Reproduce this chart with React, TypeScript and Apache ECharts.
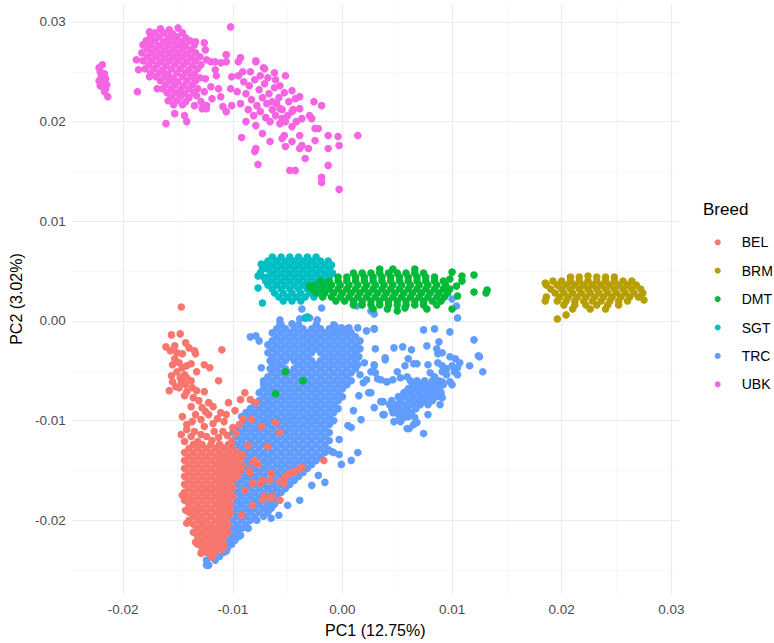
import React, { useEffect, useRef } from "react";
import * as echarts from "echarts";

const breeds = ["BEL", "BRM", "DMT", "SGT", "TRC", "UBK"];
const breedColors = ["#F8766D", "#B79F00", "#00BA38", "#00BFC4", "#619CFF", "#F564E3"];
const xAxisTitle = "PC1 (12.75%)";
const yAxisTitle = "PC2 (3.02%)";
const legendTitle = "Breed";
const xRange = [-0.0247, 0.0307];
const yRange = [-0.0274, 0.0318];

const ubk: number[][] = [
  [-.0222,.0254],[-.0219,.0257],[-.0221,.0250],[-.0217,.0248],[-.0220,.0245],[-.0216,.0243],[-.0222,.0241],[-.0218,.0239],[-.0215,.0237],[-.0219,.0235],[-.0216,.0233],[-.0221,.0236],[-.0217,.0230],[-.0214,.0225],
  [-.0166,.0293],[-.0158,.0292],[-.0150,.0294],
  [-.0171,.0289],[-.0163,.0289],[-.0155,.0288],[-.0146,.0289],
  [-.0175,.0285],[-.0167,.0285],[-.0159,.0284],[-.0151,.0285],[-.0143,.0284],
  [-.0179,.0281],[-.0171,.0281],[-.0163,.0280],[-.0155,.0281],[-.0147,.0280],[-.0139,.0281],
  [-.0182,.0277],[-.0175,.0277],[-.0167,.0276],[-.0159,.0277],[-.0151,.0277],[-.0143,.0276],[-.0135,.0277],
  [-.0178,.0273],[-.0170,.0273],[-.0162,.0272],[-.0154,.0273],[-.0146,.0273],[-.0138,.0272],
  [-.0183,.0269],[-.0174,.0269],[-.0166,.0268],[-.0158,.0269],[-.0150,.0269],[-.0142,.0268],[-.0134,.0269],
  [-.0178,.0265],[-.0170,.0265],[-.0162,.0264],[-.0154,.0265],[-.0146,.0265],[-.0138,.0264],[-.0130,.0265],
  [-.0182,.0261],[-.0174,.0261],[-.0166,.0260],[-.0158,.0261],[-.0150,.0261],[-.0142,.0260],[-.0134,.0261],
  [-.0177,.0257],[-.0169,.0257],[-.0161,.0256],[-.0153,.0257],[-.0145,.0257],[-.0137,.0256],[-.0129,.0257],
  [-.0180,.0253],[-.0172,.0253],[-.0164,.0252],[-.0156,.0253],[-.0148,.0253],[-.0140,.0252],[-.0132,.0253],
  [-.0175,.0249],[-.0167,.0249],[-.0159,.0248],[-.0151,.0249],[-.0143,.0249],[-.0135,.0248],
  [-.0170,.0245],[-.0162,.0245],[-.0154,.0244],[-.0146,.0245],[-.0138,.0245],[-.0130,.0244],
  [-.0166,.0241],[-.0158,.0241],[-.0150,.0240],[-.0142,.0241],[-.0134,.0241],
  [-.0161,.0237],[-.0153,.0237],[-.0145,.0236],[-.0137,.0237],
  [-.0164,.0233],[-.0156,.0233],[-.0148,.0232],[-.0140,.0233],[-.0132,.0233],
  [-.0160,.0229],[-.0152,.0229],[-.0144,.0228],[-.0136,.0229],
  [-.0156,.0225],[-.0148,.0225],[-.0140,.0224],
  [-.0159,.0221],[-.0151,.0221],[-.0143,.0220],
  [-.0154,.0217],[-.0146,.0217],
  [-.0176,.0290],[-.0188,.0262],[-.0186,.0252],[-.0187,.0230],[-.0169,.0233],[-.0176,.0245],[-.0161,.0198],[-.0153,.0208],[-.0144,.0206],[-.0142,.0200],[-.0135,.0216],[-.0128,.0213],[-.0124,.0216],
  [-.0134,.0280],[-.0126,.0279],[-.0125,.0272],[-.0124,.0262],[-.0120,.0260],[-.0116,.0260],[-.0111,.0259],[-.0106,.0260],[-.0116,.0252],[-.0115,.0246],[-.0113,.0233],[-.0120,.0235],[-.0125,.0243],[-.0126,.0230],[-.0119,.0223],[-.0111,.0225],[-.0109,.0215],[-.0106,.0210],[-.0101,.0216],[-.0102,.0233],[-.0101,.0245],[-.0095,.0246],[-.0106,.0267],[-.0093,.0264],[-.0095,.0260],[-.0133,.0226],[-.0129,.0220],[-.0124,.0213],
  [-.0090,.0240],[-.0085,.0236],[-.0080,.0242],[-.0076,.0232],[-.0071,.0238],[-.0067,.0228],[-.0062,.0234],[-.0058,.0224],[-.0053,.0229],[-.0049,.0220],[-.0088,.0228],[-.0083,.0222],[-.0078,.0216],[-.0073,.0224],[-.0069,.0218],[-.0064,.0212],[-.0060,.0218],[-.0055,.0212],[-.0050,.0206],[-.0086,.0212],[-.0081,.0206],[-.0075,.0210],[-.0070,.0204],[-.0066,.0200],[-.0061,.0206],[-.0057,.0198],[-.0045,.0212],[-.0042,.0200],[-.0093,.0218],[-.0096,.0230],[-.0091,.0250],[-.0084,.0250],[-.0075,.0246],[-.0068,.0244],[-.0061,.0242],[-.0072,.0254],[-.0079,.0260],
  [.0014,.0186],[-.0003,.0132],[-.0019,.0144],[-.0019,.0139],[-.0013,.0156],[-.0043,.0151],[-.0048,.0151],[-.0077,.0157],[-.0080,.0170],[-.0079,.0173],[-.0092,.0184],[-.0102,.0295],
  [-.0004,.0185],[-.0003,.0176],[-.0013,.0173],[-.0013,.0186],[-.0025,.0193],[-.0022,.0193],[-.0034,.0163],[-.0031,.0173],[-.0019,.0216],[-.0026,.0220],[-.0039,.0225],[-.0046,.0231],[-.0052,.0246],[-.0062,.0249],[-.0071,.0253],[-.0079,.0261],[-.0093,.0264],[-.0106,.0267],[-.0055,.0203],[-.0052,.0200],[-.0046,.0195],[-.0039,.0186],[-.0055,.0183],[-.0052,.0175],[-.0066,.0180],[-.0073,.0188],[-.0088,.0200],[-.0079,.0196],
  [-.0057,.0236],[-.0043,.0223],[-.0039,.0213],[-.0030,.0206],[-.0028,.0203],[-.0037,.0203],[-.0046,.0210],[-.0057,.0213],[-.0064,.0220],[-.0053,.0186],[-.0046,.0180],[-.0039,.0173],[-.0025,.0181],[-.0037,.0176]
];

const sgt: number[][] = [
  [-.0064,.0064],[-.0056,.0064],[-.0048,.0064],[-.0040,.0064],[-.0032,.0064],[-.0024,.0064],
  [-.0068,.0060],[-.0060,.0060],[-.0052,.0060],[-.0044,.0060],[-.0036,.0060],[-.0028,.0060],[-.0020,.0060],[-.0013,.0060],
  [-.0071,.0056],[-.0064,.0056],[-.0056,.0056],[-.0048,.0056],[-.0040,.0056],[-.0032,.0056],[-.0024,.0056],[-.0016,.0056],[-.0010,.0056],
  [-.0073,.0052],[-.0068,.0052],[-.0060,.0052],[-.0052,.0052],[-.0044,.0052],[-.0036,.0052],[-.0028,.0052],[-.0020,.0052],[-.0012,.0052],
  [-.0075,.0048],[-.0064,.0048],[-.0056,.0048],[-.0048,.0048],[-.0040,.0048],[-.0032,.0048],[-.0024,.0048],[-.0016,.0048],[-.0009,.0048],
  [-.0072,.0044],[-.0068,.0044],[-.0060,.0044],[-.0052,.0044],[-.0044,.0044],[-.0036,.0044],[-.0028,.0044],[-.0020,.0044],[-.0012,.0044],
  [-.0070,.0040],[-.0064,.0040],[-.0056,.0040],[-.0048,.0040],[-.0040,.0040],[-.0032,.0040],[-.0024,.0040],[-.0016,.0040],
  [-.0068,.0036],[-.0060,.0036],[-.0052,.0036],[-.0044,.0036],[-.0036,.0036],[-.0028,.0036],[-.0020,.0036],[-.0014,.0036],
  [-.0064,.0032],[-.0056,.0032],[-.0048,.0032],[-.0040,.0032],[-.0032,.0032],[-.0024,.0032],[-.0018,.0032],
  [-.0062,.0028],[-.0054,.0028],[-.0046,.0028],[-.0038,.0028],[-.0030,.0028],[-.0022,.0028],
  [-.0058,.0024],[-.0050,.0024],[-.0042,.0024],[-.0034,.0024],[-.0026,.0024],
  [-.0054,.0020],[-.0046,.0020],[-.0038,.0020],
  [-.0077,.0033],[-.0073,.0018],[-.0034,.0003],[-.0032,.0004],[-.0074,.0057],[-.0077,.0045]
];

const dmt: number[][] = [
  [.0034,.0052],[.0046,.0052],[.0066,.0052],
  [.0010,.0048],[.0018,.0048],[.0026,.0048],[.0034,.0048],[.0042,.0048],[.0050,.0048],[.0058,.0048],[.0066,.0048],[.0074,.0048],
  [-.0004,.0044],[.0004,.0044],[.0012,.0044],[.0020,.0044],[.0028,.0044],[.0036,.0044],[.0044,.0044],[.0052,.0044],[.0060,.0044],[.0068,.0044],[.0076,.0044],[.0084,.0044],
  [-.0020,.0040],[-.0012,.0040],[-.0004,.0040],[.0004,.0040],[.0012,.0040],[.0020,.0040],[.0028,.0040],[.0036,.0040],[.0044,.0040],[.0052,.0040],[.0060,.0040],[.0068,.0040],[.0076,.0040],[.0084,.0040],[.0092,.0040],
  [-.0026,.0036],[-.0018,.0036],[-.0010,.0036],[-.0002,.0036],[.0006,.0036],[.0014,.0036],[.0022,.0036],[.0030,.0036],[.0038,.0036],[.0046,.0036],[.0054,.0036],[.0062,.0036],[.0070,.0036],[.0078,.0036],[.0086,.0036],[.0094,.0036],
  [-.0028,.0032],[-.0020,.0032],[-.0012,.0032],[-.0004,.0032],[.0004,.0032],[.0012,.0032],[.0020,.0032],[.0028,.0032],[.0036,.0032],[.0044,.0032],[.0052,.0032],[.0060,.0032],[.0068,.0032],[.0076,.0032],[.0084,.0032],[.0092,.0032],[.0098,.0032],
  [-.0024,.0028],[-.0016,.0028],[-.0008,.0028],[.0000,.0028],[.0008,.0028],[.0016,.0028],[.0024,.0028],[.0032,.0028],[.0040,.0028],[.0048,.0028],[.0056,.0028],[.0064,.0028],[.0072,.0028],[.0080,.0028],[.0088,.0028],[.0096,.0028],
  [-.0018,.0024],[-.0010,.0024],[-.0002,.0024],[.0006,.0024],[.0014,.0024],[.0022,.0024],[.0030,.0024],[.0038,.0024],[.0046,.0024],[.0054,.0024],[.0062,.0024],[.0070,.0024],[.0078,.0024],[.0086,.0024],[.0093,.0024],
  [-.0006,.0020],[.0002,.0020],[.0010,.0020],[.0018,.0020],[.0026,.0020],[.0034,.0020],[.0042,.0020],[.0050,.0020],[.0058,.0020],[.0066,.0020],[.0074,.0020],[.0082,.0020],[.0090,.0020],
  [.0010,.0016],[.0018,.0016],[.0026,.0016],[.0034,.0016],[.0042,.0016],[.0050,.0016],[.0058,.0016],[.0066,.0016],[.0074,.0016],[.0086,.0016],
  [.0028,.0012],[.0041,.0012],[.0050,.0010],[.0057,.0013],[.0077,.0012],
  [.0100,.0049],[.0109,.0045],[.0120,.0046],[.0109,.0040],[.0105,.0025],[.0100,.0012],[.0120,.0029],[.0132,.0031],[.0131,.0028],[.0104,.0035],[.0098,.0042],[-.0030,.0035],
  [-.0052,-.0051],[-.0036,-.0060],[-.0061,-.0073]
];

const brm: number[][] = [
  [.0208,.0044],[.0216,.0044],[.0224,.0045],[.0232,.0044],[.0240,.0044],[.0248,.0044],
  [.0192,.0040],[.0200,.0040],[.0208,.0040],[.0216,.0040],[.0224,.0040],[.0232,.0040],[.0240,.0040],[.0248,.0040],[.0256,.0040],[.0264,.0040],
  [.0186,.0036],[.0196,.0036],[.0204,.0036],[.0212,.0036],[.0220,.0036],[.0228,.0036],[.0236,.0036],[.0244,.0036],[.0252,.0036],[.0260,.0036],[.0268,.0036],
  [.0190,.0032],[.0200,.0032],[.0208,.0032],[.0216,.0032],[.0224,.0032],[.0232,.0032],[.0240,.0032],[.0248,.0032],[.0256,.0032],[.0264,.0032],[.0272,.0032],
  [.0194,.0028],[.0202,.0028],[.0210,.0028],[.0218,.0028],[.0226,.0028],[.0234,.0028],[.0242,.0028],[.0250,.0028],[.0258,.0028],[.0266,.0028],[.0274,.0028],
  [.0186,.0024],[.0198,.0024],[.0206,.0024],[.0214,.0024],[.0222,.0024],[.0230,.0024],[.0238,.0024],[.0246,.0024],[.0254,.0024],[.0262,.0024],[.0270,.0024],
  [.0196,.0020],[.0204,.0020],[.0212,.0020],[.0220,.0020],[.0228,.0020],[.0236,.0020],[.0244,.0020],[.0252,.0020],[.0260,.0020],[.0275,.0021],
  [.0202,.0016],[.0212,.0016],[.0222,.0016],[.0232,.0016],[.0242,.0016],[.0252,.0016],
  [.0210,.0012],[.0226,.0012],[.0240,.0012],
  [.0196,.0002],[.0204,.0006],[.0185,.0038],[.0185,.0020]
];

const trc: number[][] = [
  [-.0057,.0001],[-.0037,.0012],[-.0019,.0013],[-.0039,.0002],[-.0030,.0003],[-.0023,.0001],[.0013,.0015],[.0026,.0010],[.0029,.0007],[-.0034,.0003],[-.0046,-.0003],[-.0057,-.0003],[-.0007,-.0005],[-.0001,-.0007],[.0006,-.0007],[.0014,-.0007],[.0022,-.0010],[.0029,-.0008],
  [-.0079,-.0015],[-.0076,-.0020],[-.0074,-.0047],[-.0072,-.0063],[-.0084,-.0016],
  [-.0056,-.0004],[-.0040,-.0004],[-.0024,-.0004],[-.0008,-.0004],
  [-.0060,-.0008],[-.0052,-.0008],[-.0044,-.0008],[-.0036,-.0008],[-.0028,-.0008],[-.0020,-.0008],[-.0012,-.0008],[-.0004,-.0008],[.0004,-.0008],
  [-.0064,-.0012],[-.0056,-.0012],[-.0048,-.0012],[-.0040,-.0012],[-.0032,-.0012],[-.0024,-.0012],[-.0016,-.0012],[-.0008,-.0012],[.0000,-.0012],[.0008,-.0012],
  [-.0060,-.0016],[-.0052,-.0016],[-.0044,-.0016],[-.0036,-.0016],[-.0028,-.0016],[-.0020,-.0016],[-.0012,-.0016],[-.0004,-.0016],[.0004,-.0016],[.0012,-.0016],
  [-.0064,-.0020],[-.0056,-.0020],[-.0048,-.0020],[-.0040,-.0020],[-.0032,-.0020],[-.0024,-.0020],[-.0016,-.0020],[-.0008,-.0020],[.0000,-.0020],[.0008,-.0020],[.0016,-.0020],
  [-.0068,-.0024],[-.0060,-.0024],[-.0052,-.0024],[-.0044,-.0024],[-.0036,-.0024],[-.0028,-.0024],[-.0020,-.0024],[-.0012,-.0024],[-.0004,-.0024],[.0004,-.0024],[.0012,-.0024],
  [-.0064,-.0028],[-.0056,-.0028],[-.0048,-.0028],[-.0040,-.0028],[-.0032,-.0028],[-.0024,-.0028],[-.0016,-.0028],[-.0008,-.0028],[.0000,-.0028],[.0008,-.0028],[.0016,-.0028],
  [-.0068,-.0032],[-.0060,-.0032],[-.0052,-.0032],[-.0044,-.0032],[-.0036,-.0032],[-.0028,-.0032],[-.0020,-.0032],[-.0012,-.0032],[-.0004,-.0032],[.0004,-.0032],[.0012,-.0032],
  [-.0064,-.0036],[-.0056,-.0036],[-.0048,-.0036],[-.0040,-.0036],[-.0032,-.0036],[-.0016,-.0036],[-.0008,-.0036],[.0000,-.0036],[.0008,-.0036],[.0015,-.0036],
  [-.0066,-.0040],[-.0060,-.0040],[-.0052,-.0040],[-.0044,-.0040],[-.0036,-.0040],[-.0028,-.0040],[-.0020,-.0040],[-.0012,-.0040],[-.0004,-.0040],[.0004,-.0040],[.0012,-.0040],
  [-.0064,-.0044],[-.0056,-.0044],[-.0040,-.0044],[-.0032,-.0044],[-.0024,-.0044],[-.0016,-.0044],[-.0008,-.0044],[.0000,-.0044],[.0008,-.0044],[.0014,-.0044],
  [-.0066,-.0048],[-.0060,-.0048],[-.0052,-.0048],[-.0044,-.0048],[-.0036,-.0048],[-.0028,-.0048],[-.0020,-.0048],[-.0012,-.0048],[-.0004,-.0048],[.0004,-.0048],[.0012,-.0048],
  [-.0064,-.0052],[-.0056,-.0052],[-.0048,-.0052],[-.0040,-.0052],[-.0032,-.0052],[-.0024,-.0052],[-.0016,-.0052],[-.0008,-.0052],[.0000,-.0052],[.0008,-.0052],
  [-.0068,-.0056],[-.0060,-.0056],[-.0052,-.0056],[-.0044,-.0056],[-.0036,-.0056],[-.0028,-.0056],[-.0020,-.0056],[-.0012,-.0056],[-.0004,-.0056],[.0004,-.0056],
  [-.0072,-.0060],[-.0064,-.0060],[-.0056,-.0060],[-.0048,-.0060],[-.0040,-.0060],[-.0032,-.0060],[-.0024,-.0060],[-.0016,-.0060],[-.0008,-.0060],[.0000,-.0060],[.0008,-.0060],
  [-.0068,-.0064],[-.0060,-.0064],[-.0052,-.0064],[-.0044,-.0064],[-.0036,-.0064],[-.0028,-.0064],[-.0020,-.0064],[-.0012,-.0064],[-.0004,-.0064],[.0004,-.0064],
  [-.0072,-.0068],[-.0064,-.0068],[-.0056,-.0068],[-.0048,-.0068],[-.0040,-.0068],[-.0032,-.0068],[-.0024,-.0068],[-.0016,-.0068],[-.0008,-.0068],[.0000,-.0068],
  [-.0076,-.0072],[-.0068,-.0072],[-.0060,-.0072],[-.0052,-.0072],[-.0044,-.0072],[-.0036,-.0072],[-.0028,-.0072],[-.0020,-.0072],[-.0012,-.0072],[-.0004,-.0072],
  [-.0072,-.0076],[-.0064,-.0076],[-.0056,-.0076],[-.0048,-.0076],[-.0040,-.0076],[-.0032,-.0076],[-.0024,-.0076],[-.0016,-.0076],[-.0008,-.0076],[.0000,-.0076],
  [-.0076,-.0080],[-.0068,-.0080],[-.0060,-.0080],[-.0052,-.0080],[-.0044,-.0080],[-.0036,-.0080],[-.0028,-.0080],[-.0020,-.0080],[-.0012,-.0080],[-.0004,-.0080],
  [-.0080,-.0084],[-.0072,-.0084],[-.0064,-.0084],[-.0056,-.0084],[-.0048,-.0084],[-.0040,-.0084],[-.0032,-.0084],[-.0024,-.0084],[-.0016,-.0084],[-.0008,-.0084],
  [-.0084,-.0088],[-.0076,-.0088],[-.0068,-.0088],[-.0060,-.0088],[-.0052,-.0088],[-.0044,-.0088],[-.0036,-.0088],[-.0028,-.0088],[-.0020,-.0088],[-.0012,-.0088],[-.0004,-.0088],
  [-.0088,-.0092],[-.0080,-.0092],[-.0072,-.0092],[-.0064,-.0092],[-.0056,-.0092],[-.0048,-.0092],[-.0040,-.0092],[-.0032,-.0092],[-.0024,-.0092],[-.0016,-.0092],[-.0008,-.0092],
  [-.0092,-.0096],[-.0084,-.0096],[-.0076,-.0096],[-.0068,-.0096],[-.0060,-.0096],[-.0052,-.0096],[-.0044,-.0096],[-.0036,-.0096],[-.0028,-.0096],[-.0020,-.0096],[-.0012,-.0096],
  [-.0088,-.0100],[-.0080,-.0100],[-.0072,-.0100],[-.0064,-.0100],[-.0056,-.0100],[-.0048,-.0100],[-.0040,-.0100],[-.0032,-.0100],[-.0024,-.0100],[-.0016,-.0100],[-.0008,-.0100],
  [-.0092,-.0104],[-.0084,-.0104],[-.0076,-.0104],[-.0068,-.0104],[-.0060,-.0104],[-.0052,-.0104],[-.0044,-.0104],[-.0036,-.0104],[-.0028,-.0104],[-.0020,-.0104],[-.0012,-.0104],
  [-.0096,-.0108],[-.0088,-.0108],[-.0080,-.0108],[-.0072,-.0108],[-.0064,-.0108],[-.0056,-.0108],[-.0048,-.0108],[-.0040,-.0108],[-.0032,-.0108],[-.0024,-.0108],[-.0016,-.0108],
  [-.0100,-.0112],[-.0092,-.0112],[-.0084,-.0112],[-.0076,-.0112],[-.0068,-.0112],[-.0060,-.0112],[-.0052,-.0112],[-.0044,-.0112],[-.0036,-.0112],[-.0028,-.0112],[-.0020,-.0112],[-.0012,-.0112],
  [-.0096,-.0116],[-.0088,-.0116],[-.0080,-.0116],[-.0072,-.0116],[-.0064,-.0116],[-.0056,-.0116],[-.0048,-.0116],[-.0040,-.0116],[-.0032,-.0116],[-.0024,-.0116],[-.0016,-.0116],
  [-.0100,-.0120],[-.0092,-.0120],[-.0084,-.0120],[-.0076,-.0120],[-.0068,-.0120],[-.0060,-.0120],[-.0052,-.0120],[-.0044,-.0120],[-.0036,-.0120],[-.0028,-.0120],[-.0020,-.0120],[-.0012,-.0120],
  [-.0104,-.0124],[-.0096,-.0124],[-.0088,-.0124],[-.0080,-.0124],[-.0072,-.0124],[-.0064,-.0124],[-.0056,-.0124],[-.0048,-.0124],[-.0040,-.0124],[-.0032,-.0124],[-.0024,-.0124],[-.0016,-.0124],
  [-.0108,-.0128],[-.0100,-.0128],[-.0092,-.0128],[-.0084,-.0128],[-.0076,-.0128],[-.0068,-.0128],[-.0060,-.0128],[-.0052,-.0128],[-.0044,-.0128],[-.0036,-.0128],[-.0028,-.0128],[-.0020,-.0128],
  [-.0104,-.0132],[-.0096,-.0132],[-.0088,-.0132],[-.0080,-.0132],[-.0072,-.0132],[-.0064,-.0132],[-.0056,-.0132],[-.0048,-.0132],[-.0040,-.0132],[-.0032,-.0132],[-.0024,-.0132],[-.0016,-.0132],
  [-.0108,-.0136],[-.0100,-.0136],[-.0092,-.0136],[-.0084,-.0136],[-.0076,-.0136],[-.0068,-.0136],[-.0060,-.0136],[-.0052,-.0136],[-.0044,-.0136],[-.0036,-.0136],[-.0028,-.0136],[-.0020,-.0136],
  [-.0112,-.0140],[-.0104,-.0140],[-.0096,-.0140],[-.0088,-.0140],[-.0080,-.0140],[-.0072,-.0140],[-.0064,-.0140],[-.0056,-.0140],[-.0048,-.0140],[-.0040,-.0140],[-.0032,-.0140],[-.0024,-.0140],
  [-.0108,-.0144],[-.0100,-.0144],[-.0092,-.0144],[-.0084,-.0144],[-.0076,-.0144],[-.0068,-.0144],[-.0060,-.0144],[-.0052,-.0144],[-.0044,-.0144],[-.0036,-.0144],[-.0028,-.0144],
  [-.0112,-.0148],[-.0104,-.0148],[-.0096,-.0148],[-.0088,-.0148],[-.0080,-.0148],[-.0072,-.0148],[-.0064,-.0148],[-.0056,-.0148],[-.0048,-.0148],[-.0040,-.0148],[-.0032,-.0148],
  [-.0108,-.0152],[-.0100,-.0152],[-.0092,-.0152],[-.0084,-.0152],[-.0076,-.0152],[-.0068,-.0152],[-.0060,-.0152],[-.0052,-.0152],[-.0044,-.0152],[-.0036,-.0152],
  [-.0112,-.0156],[-.0104,-.0156],[-.0096,-.0156],[-.0088,-.0156],[-.0080,-.0156],[-.0072,-.0156],[-.0064,-.0156],[-.0056,-.0156],[-.0048,-.0156],[-.0040,-.0156],
  [-.0108,-.0160],[-.0100,-.0160],[-.0092,-.0160],[-.0084,-.0160],[-.0076,-.0160],[-.0068,-.0160],[-.0060,-.0160],[-.0052,-.0160],[-.0044,-.0160],
  [-.0112,-.0164],[-.0104,-.0164],[-.0096,-.0164],[-.0088,-.0164],[-.0080,-.0164],[-.0072,-.0164],[-.0064,-.0164],[-.0056,-.0164],[-.0048,-.0164],
  [-.0108,-.0168],[-.0100,-.0168],[-.0092,-.0168],[-.0084,-.0168],[-.0076,-.0168],[-.0068,-.0168],[-.0060,-.0168],[-.0052,-.0168],
  [-.0112,-.0172],[-.0104,-.0172],[-.0096,-.0172],[-.0088,-.0172],[-.0080,-.0172],[-.0072,-.0172],[-.0064,-.0172],[-.0056,-.0172],
  [-.0108,-.0176],[-.0100,-.0176],[-.0092,-.0176],[-.0084,-.0176],[-.0076,-.0176],[-.0068,-.0176],[-.0060,-.0176],
  [-.0112,-.0180],[-.0104,-.0180],[-.0096,-.0180],[-.0088,-.0180],[-.0080,-.0180],[-.0072,-.0180],[-.0064,-.0180],
  [-.0108,-.0184],[-.0100,-.0184],[-.0092,-.0184],[-.0084,-.0184],[-.0076,-.0184],[-.0068,-.0184],[-.0062,-.0184],
  [-.0112,-.0188],[-.0104,-.0188],[-.0096,-.0188],[-.0088,-.0188],[-.0080,-.0188],[-.0072,-.0188],[-.0065,-.0188],
  [-.0108,-.0192],[-.0100,-.0192],[-.0092,-.0192],[-.0084,-.0192],[-.0076,-.0192],[-.0068,-.0192],
  [-.0112,-.0196],[-.0104,-.0196],[-.0096,-.0196],[-.0088,-.0196],[-.0080,-.0196],[-.0072,-.0196],
  [-.0108,-.0200],[-.0100,-.0200],[-.0092,-.0200],[-.0084,-.0200],[-.0078,-.0200],
  [-.0112,-.0204],[-.0104,-.0204],[-.0096,-.0204],[-.0088,-.0204],
  [-.0116,-.0208],[-.0108,-.0208],[-.0100,-.0208],[-.0092,-.0208],
  [-.0120,-.0212],[-.0112,-.0212],[-.0104,-.0212],[-.0096,-.0212],
  [-.0116,-.0216],[-.0108,-.0216],[-.0100,-.0216],[-.0094,-.0216],
  [-.0120,-.0220],[-.0112,-.0220],[-.0104,-.0220],[-.0098,-.0220],
  [-.0116,-.0224],[-.0108,-.0224],[-.0101,-.0224],
  [-.0120,-.0228],[-.0112,-.0228],[-.0105,-.0228],
  [-.0116,-.0232],[-.0108,-.0232],
  [-.0120,-.0236],[-.0112,-.0236],
  [-.0124,-.0240],[-.0116,-.0240],
  [-.0122,-.0245],
  [-.0134,-.0190],[-.0128,-.0221],[-.0124,-.0245],[-.0131,-.0200],[-.0106,-.0231],[-.0100,-.0220],[-.0093,-.0215],[-.0086,-.0208],
  [-.0003,-.0119],[-.0010,-.0131],[-.0001,-.0144],[.0008,-.0140],[.0014,-.0132],[-.0008,-.0132],[-.0003,-.0134],[-.0013,-.0129],[-.0022,-.0155],[.0005,-.0105],[.0010,-.0090],[.0015,-.0075],[.0019,-.0062],[-.0016,-.0162],[-.0028,-.0165],[-.0039,-.0180],[-.0050,-.0185],[-.0058,-.0195],[-.0065,-.0198],[-.0088,-.0207],[.0008,-.0107],
  [.0047,-.0027],[.0055,-.0026],[.0039,-.0037],[.0060,-.0038],[.0065,-.0043],[.0077,-.0025],[.0088,-.0021],[.0084,-.0008],[.0074,-.0009],[.0057,-.0045],[.0050,-.0051],[.0029,-.0044],[.0020,-.0042],[.0026,-.0051],[.0035,-.0059],[.0022,-.0059],[.0016,-.0054],[.0024,-.0072],[.0029,-.0087],[.0037,-.0081],[.0041,-.0061],[.0046,-.0059],[.0053,-.0057],[.0059,-.0056],[.0068,-.0061],[.0017,-.0099],[.0037,-.0094],[.0046,-.0092],[.0056,-.0097],[.0059,-.0108],[.0065,-.0104],
  [.0100,.0022],[.0104,.0015],[.0105,.0003],[.0120,-.0019],[.0124,-.0035],[.0098,-.0011],[.0029,-.0008],[.0030,-.0028],[.0063,-.0029],[.0086,-.0028],[.0091,-.0032],[.0087,-.0033],[.0039,-.0039],[.0098,-.0036],[.0103,-.0038],[.0107,-.0042],[.0125,-.0036],[.0116,-.0045],[.0128,-.0051],[.0068,-.0043],[.0078,-.0044],[.0087,-.0042],[.0091,-.0045],[.0100,-.0045],[.0105,-.0047],[.0102,-.0051],[.0105,-.0054],[.0029,-.0045],[.0030,-.0052],[.0032,-.0058],[.0040,-.0061],[.0062,-.0060],[.0080,-.0052],[.0084,-.0056],[.0091,-.0051],[.0095,-.0048],[.0095,-.0054],[.0098,-.0061],[.0100,-.0064],[.0091,-.0061],[.0026,-.0072],[.0035,-.0081],[.0038,-.0094],[.0061,-.0108],[.0074,-.0113],[.0066,-.0097],[.0068,-.0102],[.0053,-.0101],[.0047,-.0101],[.0091,-.0077],[.0089,-.0084],[.0078,-.0094],
  [.0068,-.0060],[.0075,-.0060],[.0082,-.0060],[.0088,-.0060],
  [.0064,-.0064],[.0071,-.0064],[.0078,-.0064],[.0085,-.0064],[.0092,-.0064],
  [.0060,-.0068],[.0067,-.0068],[.0074,-.0068],[.0081,-.0068],[.0088,-.0068],
  [.0056,-.0072],[.0063,-.0072],[.0070,-.0072],[.0077,-.0072],[.0084,-.0072],[.0090,-.0072],
  [.0051,-.0076],[.0058,-.0076],[.0065,-.0076],[.0072,-.0076],[.0079,-.0076],[.0086,-.0076],
  [.0045,-.0080],[.0053,-.0080],[.0061,-.0080],[.0068,-.0080],[.0075,-.0080],[.0082,-.0080],
  [.0043,-.0084],[.0050,-.0084],[.0057,-.0084],[.0064,-.0084],[.0071,-.0084],[.0078,-.0084],
  [.0045,-.0088],[.0052,-.0088],[.0059,-.0088],[.0067,-.0088],
  [.0049,-.0092],[.0056,-.0092],[.0063,-.0092],
  [.0052,-.0096],[.0060,-.0096]
];

const bel: number[][] = [
  [-.0147,.0014],[-.0156,-.0014],[-.0148,-.0013],[-.0161,-.0026],[-.0153,-.0025],[-.0151,-.0032],[-.0143,-.0022],[-.0140,-.0027],[-.0135,-.0030],[-.0134,-.0033],[-.0110,-.0029],[-.0153,-.0038],[-.0149,-.0042],[-.0142,-.0045],[-.0138,-.0043],[-.0126,-.0044],[-.0121,-.0047],[-.0151,-.0051],[-.0144,-.0054],[-.0142,-.0057],[-.0147,-.0061],[-.0143,-.0064],[-.0152,-.0066],[-.0149,-.0067],[-.0142,-.0071],[-.0133,-.0051],[-.0113,-.0060],[-.0133,-.0070],[-.0126,-.0071],[-.0089,-.0072],[-.0093,-.0079],[-.0084,-.0079],[-.0079,-.0082],[-.0104,-.0082],[-.0122,-.0082],[-.0128,-.0087],[-.0125,-.0091],[-.0111,-.0092],[-.0122,-.0094],[-.0146,-.0096],[-.0142,-.0104],[-.0137,-.0101],[-.0129,-.0099],[-.0126,-.0106],[-.0091,-.0098],[-.0083,-.0099],[-.0100,-.0107],[-.0142,-.0109],[-.0135,-.0111],[-.0129,-.0114],[-.0124,-.0116],[-.0117,-.0111],[-.0113,-.0117],[-.0109,-.0111],
  [-.0157,-.0030],[-.0146,-.0033],[-.0155,-.0044],[-.0146,-.0047],[-.0156,-.0055],[-.0148,-.0057],[-.0138,-.0060],[-.0155,-.0061],[-.0137,-.0067],[-.0144,-.0075],[-.0136,-.0077],[-.0158,-.0070],
  [-.0138,-.0086],[-.0131,-.0080],[-.0118,-.0086],[-.0114,-.0098],[-.0106,-.0094],[-.0098,-.0090],[-.0134,-.0094],[-.0118,-.0103],[-.0108,-.0101],[-.0094,-.0104],[-.0138,-.0116],[-.0119,-.0120],[-.0105,-.0115],[-.0097,-.0113],[-.0147,-.0114],[-.0144,-.0121],[-.0132,-.0121],[-.0112,-.0124],[-.0101,-.0121],
  [-.0136,-.0124],[-.0128,-.0124],[-.0120,-.0124],[-.0112,-.0124],[-.0104,-.0124],
  [-.0140,-.0128],[-.0132,-.0128],[-.0124,-.0128],[-.0116,-.0128],[-.0108,-.0128],[-.0100,-.0128],
  [-.0144,-.0132],[-.0136,-.0132],[-.0128,-.0132],[-.0120,-.0132],[-.0112,-.0132],[-.0104,-.0132],[-.0096,-.0132],
  [-.0140,-.0136],[-.0132,-.0136],[-.0124,-.0136],[-.0116,-.0136],[-.0108,-.0136],[-.0100,-.0136],[-.0092,-.0136],
  [-.0144,-.0140],[-.0136,-.0140],[-.0128,-.0140],[-.0120,-.0140],[-.0112,-.0140],[-.0104,-.0140],[-.0096,-.0140],
  [-.0140,-.0144],[-.0132,-.0144],[-.0124,-.0144],[-.0116,-.0144],[-.0108,-.0144],[-.0100,-.0144],[-.0092,-.0144],
  [-.0144,-.0148],[-.0136,-.0148],[-.0128,-.0148],[-.0120,-.0148],[-.0112,-.0148],[-.0104,-.0148],[-.0096,-.0148],
  [-.0140,-.0152],[-.0132,-.0152],[-.0124,-.0152],[-.0116,-.0152],[-.0108,-.0152],[-.0100,-.0152],
  [-.0144,-.0156],[-.0136,-.0156],[-.0128,-.0156],[-.0120,-.0156],[-.0112,-.0156],[-.0104,-.0156],[-.0096,-.0156],
  [-.0140,-.0160],[-.0132,-.0160],[-.0124,-.0160],[-.0116,-.0160],[-.0108,-.0160],[-.0100,-.0160],
  [-.0144,-.0164],[-.0136,-.0164],[-.0128,-.0164],[-.0120,-.0164],[-.0112,-.0164],[-.0104,-.0164],
  [-.0140,-.0168],[-.0132,-.0168],[-.0124,-.0168],[-.0116,-.0168],[-.0108,-.0168],[-.0100,-.0168],
  [-.0144,-.0172],[-.0136,-.0172],[-.0128,-.0172],[-.0120,-.0172],[-.0112,-.0172],[-.0104,-.0172],
  [-.0140,-.0176],[-.0132,-.0176],[-.0124,-.0176],[-.0116,-.0176],[-.0108,-.0176],[-.0100,-.0176],
  [-.0144,-.0180],[-.0136,-.0180],[-.0128,-.0180],[-.0120,-.0180],[-.0112,-.0180],[-.0104,-.0180],
  [-.0140,-.0184],[-.0132,-.0184],[-.0124,-.0184],[-.0116,-.0184],[-.0108,-.0184],[-.0102,-.0184],
  [-.0136,-.0188],[-.0128,-.0188],[-.0120,-.0188],[-.0112,-.0188],[-.0104,-.0188],
  [-.0140,-.0192],[-.0132,-.0192],[-.0124,-.0192],[-.0116,-.0192],[-.0108,-.0192],[-.0102,-.0192],
  [-.0136,-.0196],[-.0128,-.0196],[-.0120,-.0196],[-.0112,-.0196],[-.0104,-.0196],
  [-.0140,-.0200],[-.0132,-.0200],[-.0124,-.0200],[-.0116,-.0200],[-.0108,-.0200],
  [-.0136,-.0204],[-.0128,-.0204],[-.0120,-.0204],[-.0112,-.0204],[-.0104,-.0204],
  [-.0132,-.0208],[-.0124,-.0208],[-.0116,-.0208],[-.0108,-.0208],
  [-.0136,-.0212],[-.0128,-.0212],[-.0120,-.0212],[-.0112,-.0212],[-.0104,-.0212],
  [-.0132,-.0216],[-.0124,-.0216],[-.0116,-.0216],[-.0108,-.0216],
  [-.0128,-.0220],[-.0120,-.0220],[-.0112,-.0220],
  [-.0132,-.0224],[-.0124,-.0224],[-.0116,-.0224],[-.0108,-.0224],
  [-.0128,-.0228],[-.0120,-.0228],[-.0112,-.0228],
  [-.0124,-.0232],[-.0116,-.0232],
  [-.0120,-.0236],
  [-.0129,-.0233],[-.0119,-.0237],[-.0109,-.0229],[-.0134,-.0222],[-.0143,-.0190],[-.0146,-.0175],[-.0142,-.0203],
  [-.0074,-.0106],[-.0061,-.0102],[-.0057,-.0112],[-.0068,-.0126],[-.0048,-.0153],[-.0039,-.0149],[-.0037,-.0147],[-.0017,-.0140],[-.0057,-.0161],[-.0064,-.0176],[-.0057,-.0180],[-.0091,-.0134],[-.0084,-.0153],[-.0075,-.0163],[-.0071,-.0176],[-.0093,-.0150],[-.0086,-.0125],[-.0080,-.0140],[-.0089,-.0170],[-.0082,-.0185],[-.0092,-.0195],[-.0066,-.0160],[-.0082,-.0142],[-.0077,-.0144],[-.0086,-.0150],[-.0082,-.0163],[-.0073,-.0160],[-.0065,-.0153],[-.0065,-.0178],[-.0073,-.0180],[-.0053,-.0163],[-.0044,-.0151],[-.0052,-.0156]
];

const pointsByBreed: Record<string, number[][]> = { BEL: bel, BRM: brm, DMT: dmt, SGT: sgt, TRC: trc, UBK: ubk };
const drawOrder = ["TRC", "BEL", "SGT", "DMT", "BRM", "UBK"];
const fontFamily = "'Liberation Sans', Arial, Helvetica, sans-serif";

export default function App() {
  const ref = useRef<HTMLDivElement>(null);
  useEffect(() => {
    if (!ref.current) return;
    const chart = echarts.init(ref.current, null, { renderer: "svg" });
    const colorOf = (b: string) => breedColors[breeds.indexOf(b)];
    chart.setOption({
      animation: false,
      backgroundColor: "#FFFFFF",
      title: {
        text: legendTitle,
        left: 703,
        top: 201,
        padding: 0,
        textStyle: { fontSize: 17, fontWeight: "normal", color: "#000000", fontFamily }
      },
      legend: {
        data: breeds.map((b) => ({ name: b, itemStyle: { color: colorOf(b) } })),
        orient: "vertical",
        left: 714.7,
        top: 235.3,
        padding: 0,
        itemWidth: 6,
        itemHeight: 6,
        itemGap: 14.4,
        icon: "circle",
        selectedMode: false,
        textStyle: { fontSize: 14, color: "#000000", fontFamily, lineHeight: 14, padding: [0, 0, 0, 16] }
      },
      grid: { left: 64, right: 95, top: 4, bottom: 45, containLabel: false },
      xAxis: {
        type: "value",
        min: xRange[0],
        max: xRange[1],
        name: xAxisTitle,
        nameLocation: "middle",
        nameGap: 28,
        nameTextStyle: { color: "#000000", fontSize: 16, fontFamily },
        axisLine: { show: false },
        axisTick: { show: false },
        axisLabel: {
          color: "#4D4D4D",
          fontSize: 13.5,
          fontFamily,
          margin: 8,
          showMinLabel: false,
          showMaxLabel: false,
          formatter: (v: number) => v.toFixed(2)
        },
        splitLine: { show: true, showMinLine: false, showMaxLine: false, lineStyle: { color: "#EBEBEB", width: 1.1 } },
        minorTick: { show: false, splitNumber: 2 },
        minorSplitLine: { show: true, lineStyle: { color: "#F3F3F3", width: 0.6 } }
      },
      yAxis: {
        type: "value",
        min: yRange[0],
        max: yRange[1],
        name: yAxisTitle,
        nameLocation: "middle",
        nameRotate: 90,
        nameGap: 45,
        nameTextStyle: { color: "#000000", fontSize: 16, fontFamily },
        axisLine: { show: false },
        axisTick: { show: false },
        axisLabel: {
          color: "#4D4D4D",
          fontSize: 13.5,
          fontFamily,
          margin: 6,
          showMinLabel: false,
          showMaxLabel: false,
          formatter: (v: number) => v.toFixed(2)
        },
        splitLine: { show: true, showMinLine: false, showMaxLine: false, lineStyle: { color: "#EBEBEB", width: 1.1 } },
        minorTick: { show: false, splitNumber: 2 },
        minorSplitLine: { show: true, lineStyle: { color: "#F3F3F3", width: 0.6 } }
      },
      series: drawOrder.map((b) => ({
        name: b,
        type: "scatter",
        data: pointsByBreed[b],
        symbol: "circle",
        symbolSize: 7.6,
        silent: true,
        itemStyle: { color: colorOf(b), opacity: 1 }
      }))
    });
    return () => chart.dispose();
  }, []);
  return <div ref={ref} style={{ position: "fixed", left: 0, top: 0, width: 774, height: 643 }} />;
}
